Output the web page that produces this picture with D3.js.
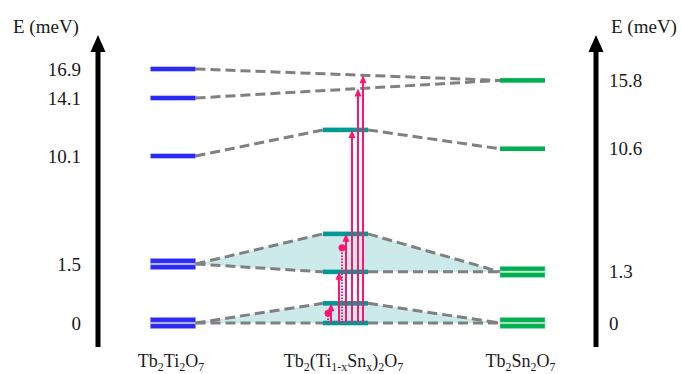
<!DOCTYPE html>
<html><head><meta charset="utf-8">
<script src="https://cdn.jsdelivr.net/npm/d3@7"></script>
<style>body{margin:0;background:#fff}svg{display:block}</style>
</head><body><svg id="c" width="681" height="374"></svg>
<script>
// ---- data ----
const compounds = ["Tb2Ti2O7", "Tb2(Ti1-xSnx)2O7", "Tb2Sn2O7"];
const compoundLabels = [
  [["Tb",0],["2",1],["Ti",0],["2",1],["O",0],["7",1]],
  [["Tb",0],["2",1],["(Ti",0],["1-x",1],["Sn",0],["x",1],[")",0],["2",1],["O",0],["7",1]],
  [["Tb",0],["2",1],["Sn",0],["2",1],["O",0],["7",1]]
];
const leftLevels = [0, 1.5, 10.1, 14.1, 16.9];
const leftDoublet = [true, true, false, false, false];
const rightLevels = [0, 1.3, 10.6, 15.8];
const rightDoublet = [true, true, false, false];
const midLevels = [0, 0.5, 1.3, 3.9, 11.9];
const leftTicks = ["0", "1.5", "10.1", "14.1", "16.9"];
const rightTicks = ["0", "1.3", "10.6", "15.8"];
// dashed connections: [fromColumn, fromEnergy, toColumn, toEnergy]
const connections = [
  [0, 16.9, 2, 15.8],
  [0, 14.1, 2, 15.8],
  [0, 10.1, 1, 11.9], [1, 11.9, 2, 10.6],
  [0, 1.5, 1, 3.9], [0, 1.5, 1, 1.3], [1, 3.9, 2, 1.3], [1, 1.3, 2, 1.3],
  [0, 0, 1, 0.5], [0, 0, 1, 0], [1, 0.5, 2, 0], [1, 0, 2, 0]
];
// shaded regions: [left, mid upper, mid lower, right]
const shaded = [[1.5, 3.9, 1.3, 1.3], [0, 0.5, 0, 0]];
// transitions from ground state: target energy of mid level, or index of a connection line
const transitions = [
  {to: 0.5}, {to: 1.3}, {to: 3.9}, {to: 11.9}, {line: 1}, {line: 0}
];
const dottedTransitions = [0.25, 2.8];

// ---- layout ----
const FONT = '"Liberation Serif"';
const svg = d3.select("#c");
const y = d3.scaleLinear().domain([0, 1.5, 10.1, 14.1, 16.9]).range([323, 264, 156, 98, 69]);
const xc = d3.scaleOrdinal().domain([0, 1, 2]).range([173, 345.5, 522.5]);
const half = 22.5, barH = 4.6, dOff = 3.1;
const colColors = ["#2a2af2", "#009a94", "#00b050"];
const colStroke = ["#8f8fff", "#5fc4bf", "#7fd8a4"];
const pink = "#ff1470";

// shaded regions
shaded.forEach(s => {
  const pts = [
    [xc(0) + half, y(s[0])], [xc(1) - half, y(s[1])], [xc(1) + half, y(s[1])],
    [xc(2) - half, y(s[3])], [xc(1) + half, y(s[2])], [xc(1) - half, y(s[2])]
  ];
  svg.append("polygon").attr("points", pts.map(p => p.join(",")).join(" "))
    .attr("fill", "#cdeaea");
});

// dashed connections
const edgeX = (col, side) => xc(col) + (side > 0 ? half : -half);
const connPts = connections.map(c => {
  const x1 = edgeX(c[0], 1), x2 = edgeX(c[2], -1);
  return [x1, y(c[1]), x2, y(c[3])];
});
svg.selectAll("line.conn").data(connPts).join("line").attr("class", "conn")
  .attr("x1", d => d[0]).attr("y1", d => d[1]).attr("x2", d => d[2]).attr("y2", d => d[3])
  .attr("stroke", "#808080").attr("stroke-width", 3).attr("stroke-dasharray", "10,5");

// levels
function drawLevels(col, levels, doublet) {
  levels.forEach((e, i) => {
    const offs = doublet && doublet[i] ? [-dOff, dOff] : [0];
    offs.forEach(o => {
      svg.append("rect").attr("x", xc(col) - half).attr("width", half * 2)
        .attr("y", y(e) + o - barH / 2).attr("height", barH)
        .attr("fill", colColors[col]).attr("stroke", colStroke[col]).attr("stroke-width", doublet && doublet[i] ? 0.6 : 0);
    });
  });
}
drawLevels(0, leftLevels, leftDoublet);
drawLevels(1, midLevels, null);
drawLevels(2, rightLevels, rightDoublet);

// transitions
const x0 = xc(1) - half;
const solidX = [8, 16, 23, 29, 35, 40];
const dottedX = [5, 19];
transitions.forEach((t, i) => {
  const x = x0 + solidX[i];
  let ty;
  if (t.to !== undefined) ty = y(t.to);
  else {
    const p = connPts[t.line];
    ty = p[1] + (p[3] - p[1]) * (x - p[0]) / (p[2] - p[0]);
  }
  svg.append("line").attr("x1", x).attr("x2", x).attr("y1", y(0)).attr("y2", ty + 6)
    .attr("stroke", pink).attr("stroke-width", 2);
  svg.append("path").attr("d", `M${x},${ty} L${x - 3.5},${ty + 8} L${x + 3.5},${ty + 8} Z`).attr("fill", pink);
});
dottedTransitions.forEach((e, i) => {
  const x = x0 + dottedX[i];
  svg.append("line").attr("x1", x).attr("x2", x).attr("y1", y(0)).attr("y2", y(e))
    .attr("stroke", pink).attr("stroke-width", 2).attr("stroke-dasharray", "1.5,1.5");
  svg.append("circle").attr("cx", x).attr("cy", y(e)).attr("r", 3.5).attr("fill", pink);
});

// axes arrows
function axisArrow(x) {
  svg.append("rect").attr("x", x - 2.5).attr("y", 48).attr("width", 5).attr("height", 347 - 48).attr("fill", "#000");
  svg.append("path").attr("d", `M${x},35 L${x - 7.5},52 L${x + 7.5},52 Z`).attr("fill", "#000");
}
axisArrow(98);
axisArrow(596);

// axis labels
const fs = 19;
function txt(x, yy, s, anchor, size) {
  return svg.append("text").attr("x", x).attr("y", yy).attr("text-anchor", anchor || "start")
    .style("font-family", FONT).attr("font-size", size || fs).attr("fill", "#1a1a1a").text(s);
}
txt(13, 33, "E (meV)");
txt(611, 33, "E (meV)");
leftLevels.forEach((e, i) => txt(81, y(e) + 6.5, leftTicks[i], "end"));
rightLevels.forEach((e, i) => txt(609, y(e) + 6.5, rightTicks[i]));

// compound labels
compoundLabels.forEach((parts, i) => {
  const t = svg.append("text").attr("x", xc(i) - 2).attr("y", 367).attr("text-anchor", "middle")
    .style("font-family", FONT).attr("font-size", 18).attr("fill", "#1a1a1a");
  let prevSub = false;
  parts.forEach(([s, sub]) => {
    const dy = sub && !prevSub ? 4 : (!sub && prevSub ? -4 : 0);
    t.append("tspan").attr("font-size", sub ? 12 : 18).attr("dy", dy).text(s);
    prevSub = !!sub;
  });
});
</script></body></html>
